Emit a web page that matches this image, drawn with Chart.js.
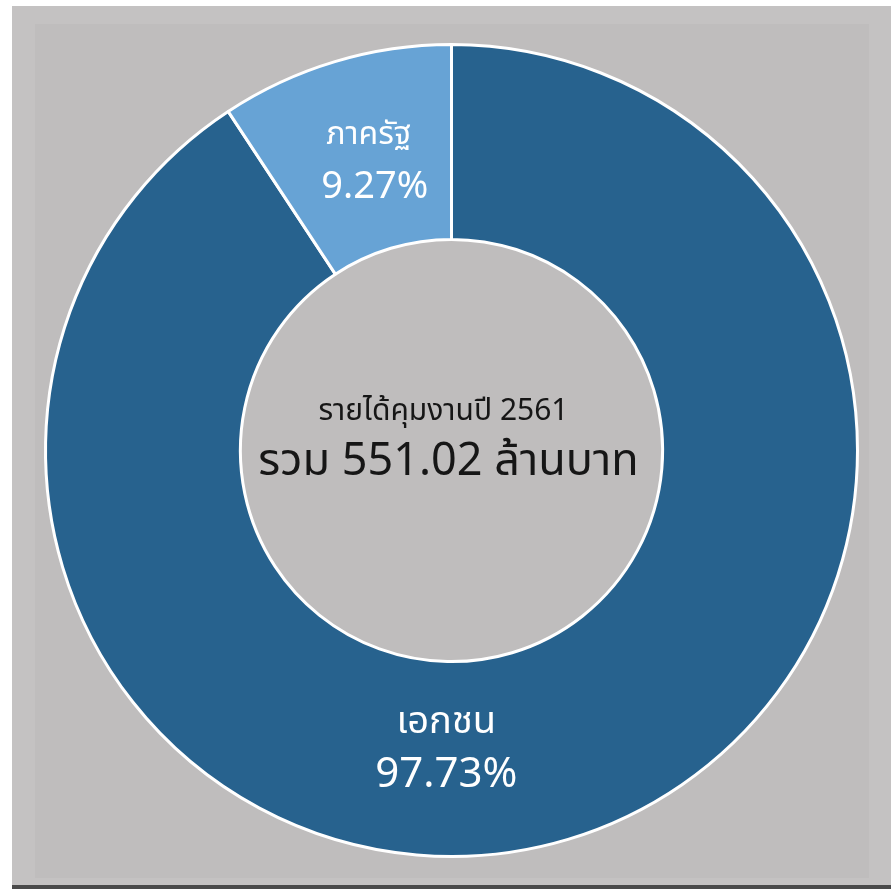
<!DOCTYPE html>
<html>
<head>
<meta charset="utf-8">
<script src="https://cdn.jsdelivr.net/npm/chart.js@4.4.1/dist/chart.umd.min.js"></script>
<style>
  html, body { margin: 0; padding: 0; background: #ffffff; }
  #frame {
    position: absolute; left: 12px; top: 6px; width: 879px; height: 879px;
    background: #c4c2c2; border-bottom: 4px solid #4a4a4a;
  }
  #inner {
    position: absolute; left: 23px; top: 18px; right: 22px; bottom: 7px;
    background: #bfbdbd;
  }
  #wrap { position: absolute; left: 38px; top: 37px; width: 827px; height: 827px; }
</style>
</head>
<body>
<div id="frame"><div id="inner"></div></div>
<div id="wrap"><canvas id="donut"></canvas></div>
<script>
// slices (drawn shares) and the percent text printed on them
const categories = ['เอกชน', 'ภาครัฐ'];
const shares = [90.73, 9.27];
const shownPercents = ['97.73%', '9.27%'];
const sliceColors = ['#27628e', '#67a3d5'];
const centerTitle = 'รายได้คุมงานปี 2561';
const centerTotal = 'รวม 551.02 ล้านบาท';

const THAI_FONT = '"Noto Sans Thai", "Noto Sans", "DejaVu Sans", sans-serif';

const sliceLabels = {
    id: 'sliceLabels',
    afterDatasetsDraw(chart, args, opts) {
        const ctx = chart.ctx;
        const meta = chart.getDatasetMeta(0);
        meta.data.forEach((arc, i) => {
            const a = (opts.angles[i] - 90) * Math.PI / 180;
            const x = arc.x + Math.cos(a) * opts.radius;
            const y = arc.y + Math.sin(a) * opts.radius;
            ctx.save();
            ctx.fillStyle = '#ffffff';
            ctx.textAlign = 'center';
            ctx.textBaseline = 'middle';
            ctx.font = opts.nameSize[i] + 'px ' + THAI_FONT;
            ctx.fillText(categories[i], x, y - 25);
            ctx.font = opts.pctSize[i] + 'px ' + THAI_FONT;
            ctx.fillText(shownPercents[i], x + opts.pctShift[i], y + 28);
            ctx.restore();
        });
        // centre text
        const c = meta.data[0];
        ctx.save();
        ctx.fillStyle = '#161616';
        ctx.textAlign = 'center';
        ctx.textBaseline = 'middle';
        ctx.font = '30px ' + THAI_FONT;
        ctx.fillText(centerTitle, c.x - 8, c.y - 37);
        ctx.font = '45px ' + THAI_FONT;
        ctx.fillText(centerTotal, c.x - 3, c.y + 15);
        ctx.restore();
    }
};

new Chart(document.getElementById('donut'), {
    type: 'doughnut',
    data: {
        labels: categories,
        datasets: [{
            data: shares,
            backgroundColor: sliceColors,
            borderColor: '#ffffff',
            borderWidth: 3,
        }]
    },
    options: {
        responsive: true,
        maintainAspectRatio: true,
        animation: false,
        cutout: '52%',
        layout: { padding: 6 },
        plugins: {
            legend: { display: false },
            tooltip: { enabled: false },
            sliceLabels: {
                angles: [181, -16],
                radius: 300,
                nameSize: [38, 32],
                pctSize: [42, 38],
                pctShift: [0, 6],
            }
        }
    },
    plugins: [sliceLabels]
});
</script>
</body>
</html>
